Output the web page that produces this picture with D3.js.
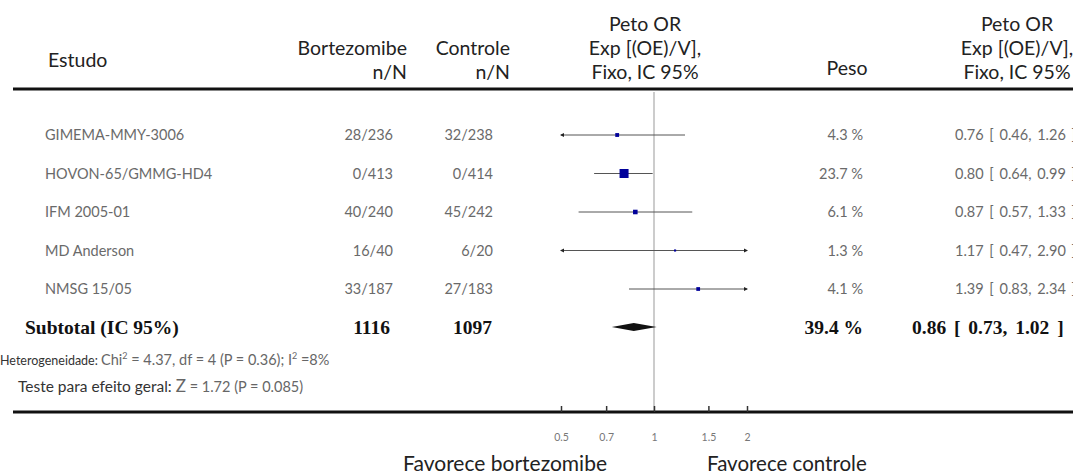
<!DOCTYPE html>
<head>
  <meta charset="utf-8">
  <script src="https://d3js.org/d3.v7.min.js"></script>
  <style>
    body { margin:0; background:#fff; }
    svg { display:block; }
    .hdr { font-family: Lato, "Open Sans", sans-serif; font-size: 19.5px; fill: #222; }
    .row { font-family: Lato, sans-serif; font-size: 14.5px; fill: #6a6a6a; }
    .tot { font-family: "Liberation Serif", serif; font-weight: bold; font-size: 19.5px; fill: #111; }
    .note { font-family: Lato, sans-serif; font-size: 14.5px; fill: #666; }
    .tick { font-family: Lato, sans-serif; font-size: 10.5px; fill: #777; }
  </style>
</head>

<body>
  <script>
    var studies = ["GIMEMA-MMY-3006", "HOVON-65/GMMG-HD4", "IFM 2005-01", "MD Anderson", "NMSG 15/05"];
    var eventsB = [28, 0, 40, 16, 33],
        totalB  = [236, 413, 240, 40, 187];
    var eventsC = [32, 0, 45, 6, 27],
        totalC  = [238, 414, 242, 20, 183];
    var weights = [4.3, 23.7, 6.1, 1.3, 4.1];
    var orVal = [0.76, 0.80, 0.87, 1.17, 1.39],
        orLo  = [0.46, 0.64, 0.57, 0.47, 0.83],
        orHi  = [1.26, 0.99, 1.33, 2.90, 2.34];
    var subTotalB = 1116, subTotalC = 1097, subWeight = 39.4;
    var subOr = [0.86, 0.73, 1.02];
    var tickValues = [0.5, 0.7, 1, 1.5, 2];
    var leftLabel = "Favorece bortezomibe", rightLabel = "Favorece controle";

    var width = 1073, height = 474;

    var svg = d3.select("body").append("svg")
      .attr("width", width)
      .attr("height", height);

    var x = d3.scaleLog().domain([0.5, 2]).range([561, 747]);
    var y = d3.scalePoint().domain(studies).range([135, 289]);
    var size = d3.scaleSqrt().domain([0, 23.7]).range([0, 9]);
    var f2 = d3.format(".2f");

    var colName = 45, colB = 393, colC = 493, colW = 863, colOr = 955;

    // cabeçalho
    var hdr = svg.append("g").attr("class", "hdr");
    hdr.append("text").attr("x", 48).attr("y", 67).text("Estudo");
    hdr.append("text").attr("x", 407).attr("y", 55).attr("text-anchor", "end").text("Bortezomibe");
    hdr.append("text").attr("x", 407).attr("y", 79).attr("text-anchor", "end").text("n/N");
    hdr.append("text").attr("x", 510).attr("y", 55).attr("text-anchor", "end").text("Controle");
    hdr.append("text").attr("x", 510).attr("y", 79).attr("text-anchor", "end").text("n/N");
    [645, 1017].forEach(function(cx) {
      ["Peto OR", "Exp [(OE)/V],", "Fixo, IC 95%"].forEach(function(t, i) {
        hdr.append("text").attr("x", cx).attr("y", 31 + i * 24).attr("text-anchor", "middle").text(t);
      });
    });
    hdr.append("text").attr("x", 847).attr("y", 75).attr("text-anchor", "middle").text("Peso");

    svg.append("line")
      .attr("x1", 13).attr("x2", width).attr("y1", 89).attr("y2", 89)
      .style("stroke", "#111").style("stroke-width", 3);

    // linha de nulidade
    svg.append("line")
      .attr("x1", x(1)).attr("x2", x(1)).attr("y1", 92).attr("y2", 412)
      .style("stroke", "#999").style("stroke-width", 1);

    var rows = svg.selectAll("g.study")
      .data(studies)
      .enter().append("g")
      .attr("class", "study")
      .attr("transform", function(d) { return "translate(0," + y(d) + ")"; });

    rows.append("text").attr("class", "row").attr("x", colName).attr("y", 5)
      .text(function(d) { return d; });
    rows.append("text").attr("class", "row").attr("x", colB).attr("y", 5).attr("text-anchor", "end")
      .text(function(d, i) { return eventsB[i] + "/" + totalB[i]; });
    rows.append("text").attr("class", "row").attr("x", colC).attr("y", 5).attr("text-anchor", "end")
      .text(function(d, i) { return eventsC[i] + "/" + totalC[i]; });
    rows.append("text").attr("class", "row").attr("x", colW).attr("y", 5).attr("text-anchor", "end")
      .text(function(d, i) { return weights[i] + " %"; });
    rows.append("text").attr("class", "row").attr("x", colOr).attr("y", 5)
      .style("word-spacing", "2px")
      .text(function(d, i) { return f2(orVal[i]) + " [ " + f2(orLo[i]) + ", " + f2(orHi[i]) + " ]"; });

    var dom = x.domain();
    rows.append("line")
      .attr("x1", function(d, i) { return x(Math.max(orLo[i], dom[0])); })
      .attr("x2", function(d, i) { return x(Math.min(orHi[i], dom[1])); })
      .style("stroke", "#555").style("stroke-width", 1);

    // setas quando o IC passa do eixo
    rows.filter(function(d, i) { return orLo[i] < dom[0]; })
      .append("path")
      .attr("d", "M" + (x(dom[0]) - 1) + ",0l4,-2v4z")
      .style("fill", "#222");
    rows.filter(function(d, i) { return orHi[i] > dom[1]; })
      .append("path")
      .attr("d", "M" + (x(dom[1]) + 1) + ",0l-4,-2v4z")
      .style("fill", "#222");

    rows.append("rect")
      .attr("x", function(d, i) { return x(orVal[i]) - Math.max(size(weights[i]), 1.5) / 2; })
      .attr("y", function(d, i) { return -Math.max(size(weights[i]), 1.5) / 2; })
      .attr("width", function(d, i) { return Math.max(size(weights[i]), 1.5); })
      .attr("height", function(d, i) { return Math.max(size(weights[i]), 1.5); })
      .style("fill", "#00009a");

    // subtotal
    var ySub = 327;
    svg.append("text").attr("class", "tot").attr("x", 25).attr("y", ySub + 7).text("Subtotal (IC 95%)");
    svg.append("text").attr("class", "tot").attr("x", 390).attr("y", ySub + 7).attr("text-anchor", "end").text(subTotalB);
    svg.append("text").attr("class", "tot").attr("x", 492).attr("y", ySub + 7).attr("text-anchor", "end").text(subTotalC);
    svg.append("text").attr("class", "tot").attr("x", colW).attr("y", ySub + 7).attr("text-anchor", "end").text(subWeight + " %");
    svg.append("text").attr("class", "tot").attr("x", 912).attr("y", ySub + 7)
      .style("word-spacing", "3px")
      .text(f2(subOr[0]) + " [ " + f2(subOr[1]) + ", " + f2(subOr[2]) + " ]");

    svg.append("path")
      .attr("d", "M" + x(subOr[1]) + "," + ySub +
                 "L" + x(subOr[0]) + "," + (ySub - 4) +
                 "L" + x(subOr[2]) + "," + ySub +
                 "L" + x(subOr[0]) + "," + (ySub + 4) + "Z")
      .style("fill", "#111");

    var het = svg.append("text").attr("class", "note").attr("x", 0).attr("y", 365);
    het.append("tspan").style("fill", "#333").style("font-size", "12.5px").text("Heterogeneidade: ");
    het.append("tspan").text("Chi");
    het.append("tspan").attr("dy", -6).style("font-size", "9px").text("2");
    het.append("tspan").attr("dy", 6).text(" = 4.37, df = 4 (P = 0.36); I");
    het.append("tspan").attr("dy", -6).style("font-size", "9px").text("2");
    het.append("tspan").attr("dy", 6).text(" =8%");

    var tst = svg.append("text").attr("class", "note").attr("x", 18).attr("y", 392);
    tst.append("tspan").style("fill", "#333").style("font-size", "15.5px").text("Teste para efeito geral: ");
    tst.append("tspan").style("font-size", "17px").text("Z");
    tst.append("tspan").text(" = 1.72 (P = 0.085)");

    // eixo
    svg.append("line")
      .attr("x1", 13).attr("x2", width).attr("y1", 412).attr("y2", 412)
      .style("stroke", "#111").style("stroke-width", 3);

    var axis = svg.append("g")
      .attr("transform", "translate(0,412)")
      .call(d3.axisTop(x).tickValues(tickValues).tickSize(6).tickFormat(d3.format("")));
    axis.select(".domain").remove();
    axis.selectAll(".tick line").style("stroke", "#333").style("stroke-width", 1.5);
    axis.selectAll(".tick text")
      .attr("class", "tick")
      .attr("y", 29)
      .attr("dy", null);

    svg.append("text").attr("class", "hdr").attr("x", 607).attr("y", 471).attr("text-anchor", "end")
      .style("font-size", "21px").text(leftLabel);
    svg.append("text").attr("class", "hdr").attr("x", 707).attr("y", 471)
      .style("font-size", "20.5px").text(rightLabel);
  </script>
</body>
